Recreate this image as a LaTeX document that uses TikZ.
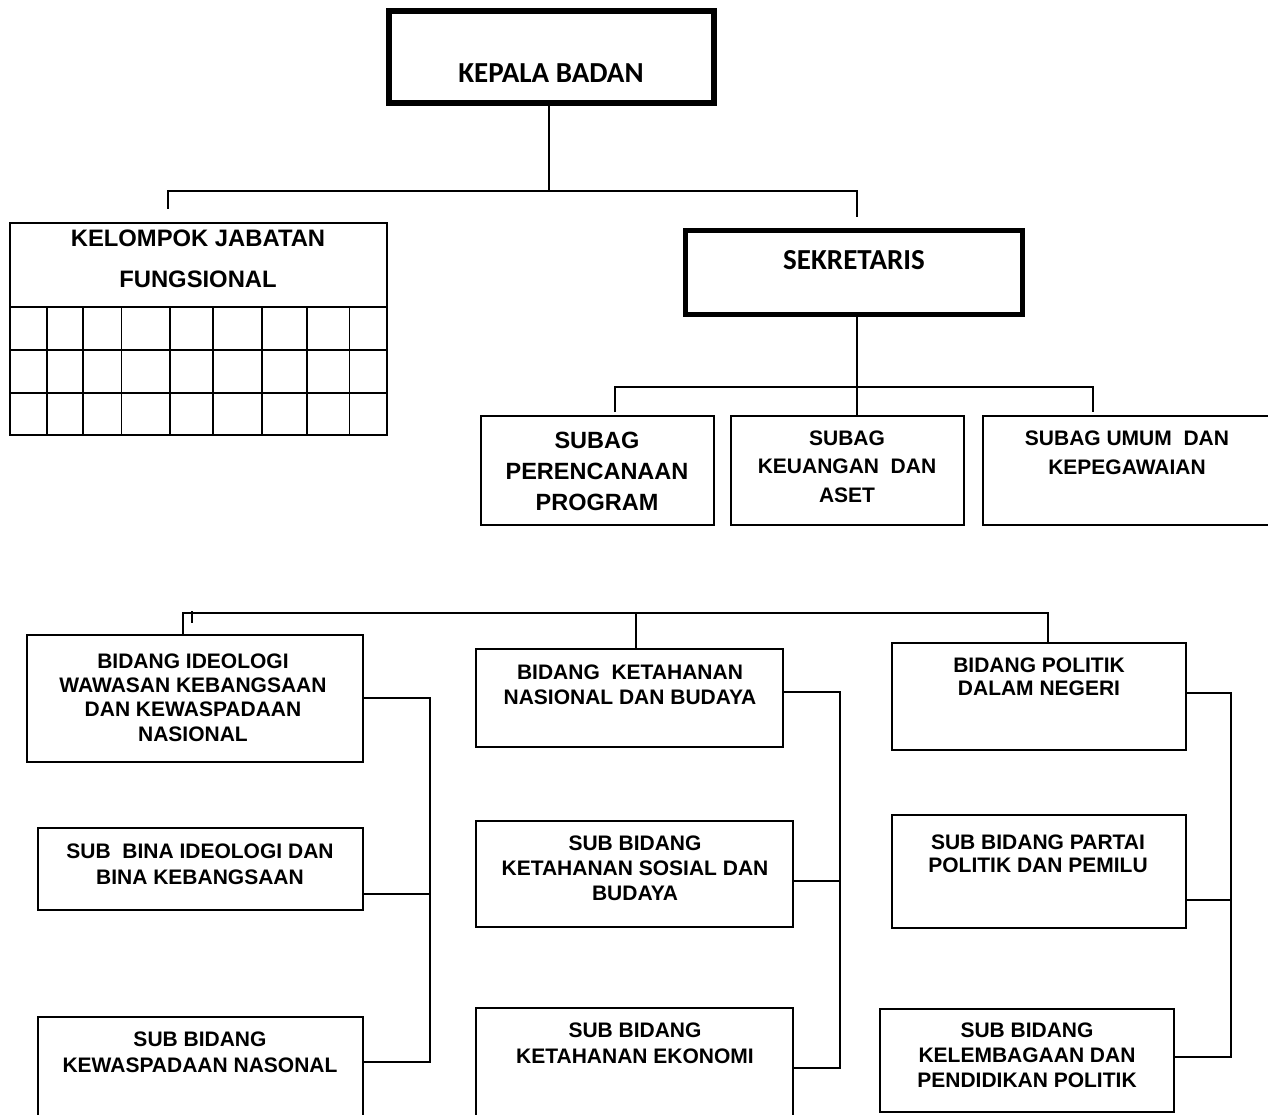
\documentclass[tikz,border=0pt]{standalone}
\usepackage{fontspec}
\setmainfont{Liberation Sans}
\newfontfamily\calib{Carlito}
\begin{document}
\begin{tikzpicture}[x=1pt,y=-1pt,
  box/.style={draw, line width=1.6pt, rectangle, inner sep=0pt},
  conn/.style={line width=1.4pt},
  grid/.style={line width=1.3pt},
  txt/.style={inner sep=0pt, align=center, font=\bfseries\fontsize{21}{25}\selectfont},
  ctxt/.style={inner sep=0pt, align=center, font=\calib\bfseries\fontsize{29}{32}\selectfont},
]
\useasboundingbox (0,0) rectangle (1268,1115);
\clip (0,0) rectangle (1268,1115);

% ---------- top ----------
\node[box, line width=6pt, minimum width=325, minimum height=92] (kepala) at (551.5,57) {};
\node[ctxt] (tkepala) at (551,73) {KEPALA BADAN};

\node[box, line width=5pt, minimum width=337, minimum height=84] (sek) at (854,272.5) {};
\node[ctxt] (tsek) at (854,260) {SEKRETARIS};

% kelompok jabatan fungsional table
\node[box, line width=1.4pt, minimum width=377, minimum height=212] (kjf) at (198.5,329) {};
\node[txt, font=\bfseries\fontsize{23.8}{41}\selectfont] (tkjf) at (198,259) {KELOMPOK JABATAN\\FUNGSIONAL};
\foreach \yy in {307,350,393}
  \draw[grid] (kjf.west |- 0,\yy) -- (kjf.east |- 0,\yy);
\foreach \xx in {47,83,121.5,170,213,262,307,349.5}
  \draw[grid] (\xx,307) -- (kjf.south -| \xx,0);

% connectors from kepala
\coordinate (j0) at (549,191);
\coordinate (jl) at (168,191);
\coordinate (jr) at (857,191);
\coordinate (dl) at (168,209);
\coordinate (dr) at (857,217);
\draw[conn] (kepala.south -| j0) -- (j0);
\draw[conn] (dl) -- (jl) -- (jr) -- (dr);

% ---------- subag ----------
\node[box, minimum width=233, minimum height=109] (s1) at (597.5,470.5) {};
\node[box, minimum width=233, minimum height=109] (s2) at (847.5,470.5) {};
\node[box, minimum width=294, minimum height=109] (s3) at (1130,470.5) {};
\node[txt, font=\bfseries\fontsize{23.5}{31}\selectfont] (ts1) at (597,471) {SUBAG\\PERENCANAAN\\PROGRAM};
\node[txt, font=\bfseries\fontsize{21}{28.5}\selectfont] (ts2) at (847,466.5) {SUBAG\\KEUANGAN\ \ DAN\\ASET};
\node[txt, font=\bfseries\fontsize{21}{29}\selectfont] (ts3) at (1127,452.5) {SUBAG UMUM\ \ DAN\\KEPEGAWAIAN};

\coordinate (sj) at (857,387);
\coordinate (sl) at (615,387);
\coordinate (sr) at (1093,387);
\coordinate (sld) at (615,412);
\coordinate (srd) at (1093,412);
\draw[conn] (sek.south -| sj) -- (s2.north -| sj);
\draw[conn] (sld) -- (sl) -- (sr) -- (srd);

% ---------- bidang ----------
\node[box, minimum width=336, minimum height=127] (b1) at (195,698.5) {};
\node[box, minimum width=307, minimum height=98] (b2) at (629.5,698) {};
\node[box, minimum width=294, minimum height=107] (b3) at (1039,696.5) {};
\node[txt, font=\bfseries\fontsize{21}{24.3}\selectfont] (tb1) at (193,697.5) {BIDANG IDEOLOGI\\WAWASAN KEBANGSAAN\\DAN KEWASPADAAN\\NASIONAL};
\node[txt] (tb2) at (630,684.5) {BIDANG\ \ KETAHANAN\\NASIONAL DAN BUDAYA};
\node[txt, font=\bfseries\fontsize{21}{22.5}\selectfont] (tb3) at (1039,677) {BIDANG POLITIK\\DALAM NEGERI};

\coordinate (bl) at (183,613);
\coordinate (br) at (1048,613);
\coordinate (tick1) at (192,611);
\coordinate (tick2) at (192,623);
\draw[conn] (b1.north -| bl) -- (bl) -- (br) -- (b3.north -| br);
\draw[conn] (636,613) -- (b2.north -| 636,0);
\draw[conn] (tick1) -- (tick2);

% left column
\node[box, minimum width=325, minimum height=82] (sb1) at (200.5,869) {};
\node[box, minimum width=325, minimum height=113] (sb2) at (200.5,1073.5) {};
\node[txt, font=\bfseries\fontsize{21}{26}\selectfont] (tsb1) at (200,864) {SUB\ \ BINA IDEOLOGI DAN\\BINA KEBANGSAAN};
\node[txt, font=\bfseries\fontsize{21}{26}\selectfont] (tsb2) at (200,1052) {SUB BIDANG\\KEWASPADAAN NASONAL};
\coordinate (lx) at (430,0);
\draw[conn] (b1.east |- 0,698) -- (lx |- 0,698) -- (lx |- 0,1062) -- (sb2.east |- 0,1062);
\draw[conn] (sb1.east |- 0,894) -- (lx |- 0,894);

% middle column
\node[box, minimum width=317, minimum height=106] (sm1) at (634.5,874) {};
\node[box, minimum width=317, minimum height=122] (sm2) at (634.5,1069) {};
\node[txt] (tsm1) at (635,868) {SUB BIDANG\\KETAHANAN SOSIAL DAN\\BUDAYA};
\node[txt, font=\bfseries\fontsize{21}{26}\selectfont] (tsm2) at (635,1043) {SUB BIDANG\\KETAHANAN EKONOMI};
\coordinate (mx) at (840,0);
\draw[conn] (b2.east |- 0,692) -- (mx |- 0,692) -- (mx |- 0,1068) -- (sm2.east |- 0,1068);
\draw[conn] (sm1.east |- 0,881) -- (mx |- 0,881);

% right column
\node[box, minimum width=294, minimum height=113] (sr1) at (1039,871.5) {};
\node[box, minimum width=294, minimum height=103] (sr2) at (1027,1060.5) {};
\node[txt, font=\bfseries\fontsize{21}{23}\selectfont] (tsr1) at (1038,853.5) {SUB BIDANG PARTAI\\POLITIK DAN PEMILU};
\node[txt] (tsr2) at (1027,1055) {SUB BIDANG\\KELEMBAGAAN DAN\\PENDIDIKAN POLITIK};
\coordinate (rx) at (1231,0);
\draw[conn] (b3.east |- 0,693) -- (rx |- 0,693) -- (rx |- 0,1057) -- (sr2.east |- 0,1057);
\draw[conn] (sr1.east |- 0,900) -- (rx |- 0,900);
\end{tikzpicture}
\end{document}
